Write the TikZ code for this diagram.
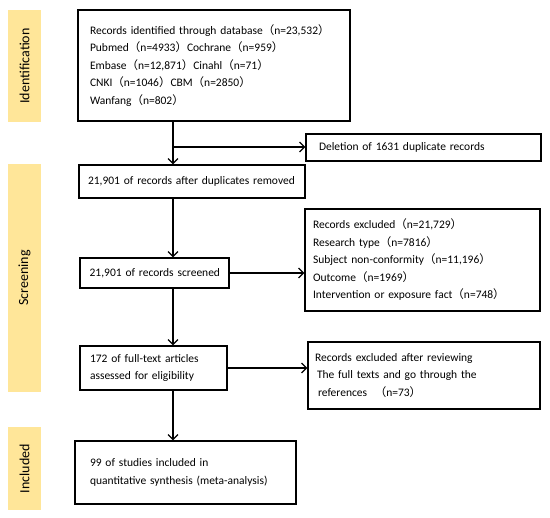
\documentclass[tikz,border=0pt]{standalone}
\usepackage{fontspec}
\setmainfont{Carlito}
\newfontfamily\cjk{Noto Sans CJK SC}
\usetikzlibrary{arrows.meta}

\definecolor{barcolor}{HTML}{FFE699}
\newcommand{\fwl}{{\cjk （}}
\newcommand{\fwr}{{\cjk ）}}

\tikzset{
  stage/.style={fill=barcolor, rotate=90, minimum height=33pt, inner sep=0pt, font=\fontsize{14}{16}\selectfont},
  box/.style={draw, line width=1.2pt, inner sep=0pt, align=left, font=\fontsize{11.5}{17.5}\selectfont},
  flow/.style={line width=1.2pt, -{Straight Barb[length=5pt, width=10pt]}}
}

\begin{document}
\begin{tikzpicture}[x=1pt, y=-1pt]

\useasboundingbox (0,0) rectangle (550,518);

% stage bars on the left
\node[stage, minimum width=112pt] (ident)  at (24.5, 66)    {Identification};
\node[stage, minimum width=228pt] (screen) at (24.5, 278)   {Screening};
\node[stage, minimum width=83pt]  (incl)   at (24.5, 468.5) {Included};

% boxes
\node[box, minimum width=272pt, minimum height=111pt, text width=248pt] (db) at (214, 65.5)
  {Records identified through database\fwl n=23,532\fwr\\
   Pubmed\fwl n=4933\fwr Cochrane\fwl n=959\fwr\\
   Embase\fwl n=12,871\fwr Cinahl\fwl n=71\fwr\\
   CNKI\fwl n=1046\fwr CBM\fwl n=2850\fwr\\
   Wanfang\fwl n=802\fwr\\[12pt]};
\node[box, minimum width=235pt, minimum height=27pt, text width=209pt] (dup) at (423.5, 147.5)
  {Deletion of 1631 duplicate records};
\node[box, minimum width=226pt, minimum height=33pt, text width=208pt] (after) at (192, 181.5)
  {21,901 of records after duplicates removed};
\node[box, minimum width=149pt, minimum height=30pt, text width=131pt, align=right] (screened) at (154.5, 273)
  {21,901 of records screened};
\node[box, minimum width=235pt, minimum height=102pt, text width=219pt] (excl) at (422.5, 260)
  {Records excluded\fwl n=21,729\fwr\\
   Research type\fwl n=7816\fwr\\
   Subject non-conformity\fwl n=11,196\fwr\\
   Outcome\fwl n=1969\fwr\\
   Intervention or exposure fact\fwl n=748\fwr\\[10pt]};
\node[box, minimum width=147pt, minimum height=44pt, text width=127pt] (full) at (153.5, 368)
  {172 of full-text articles\\
   assessed for eligibility};
\node[box, minimum width=232pt, minimum height=67pt, text width=218pt] (excl2) at (424, 375.5)
  {Records excluded after reviewing\\
   \hspace{2pt}The full texts and go through the\\
   \hspace{3pt}references \ \fwl n=73\fwr};
\node[box, minimum width=221pt, minimum height=63pt, text width=191pt] (final) at (185.5, 472.5)
  {99 of studies included in\\
   quantitative synthesis (meta-analysis)};

% connectors
\coordinate (spine) at (173, 0);
\coordinate (split) at (173, 147);
\draw[flow] (db.south -| spine) -- (after.north -| spine);
\draw[flow] (split) -- (split -| dup.west);
\draw[flow] (after.south -| spine) -- (screened.north -| spine);
\draw[flow] (screened.east) -- (screened.east -| excl.west);
\draw[flow] (screened.south -| spine) -- (full.north -| spine);
\draw[flow] (full.east) -- (full.east -| excl2.west);
\draw[flow] (full.south -| spine) -- (final.north -| spine);

\end{tikzpicture}
\end{document}
